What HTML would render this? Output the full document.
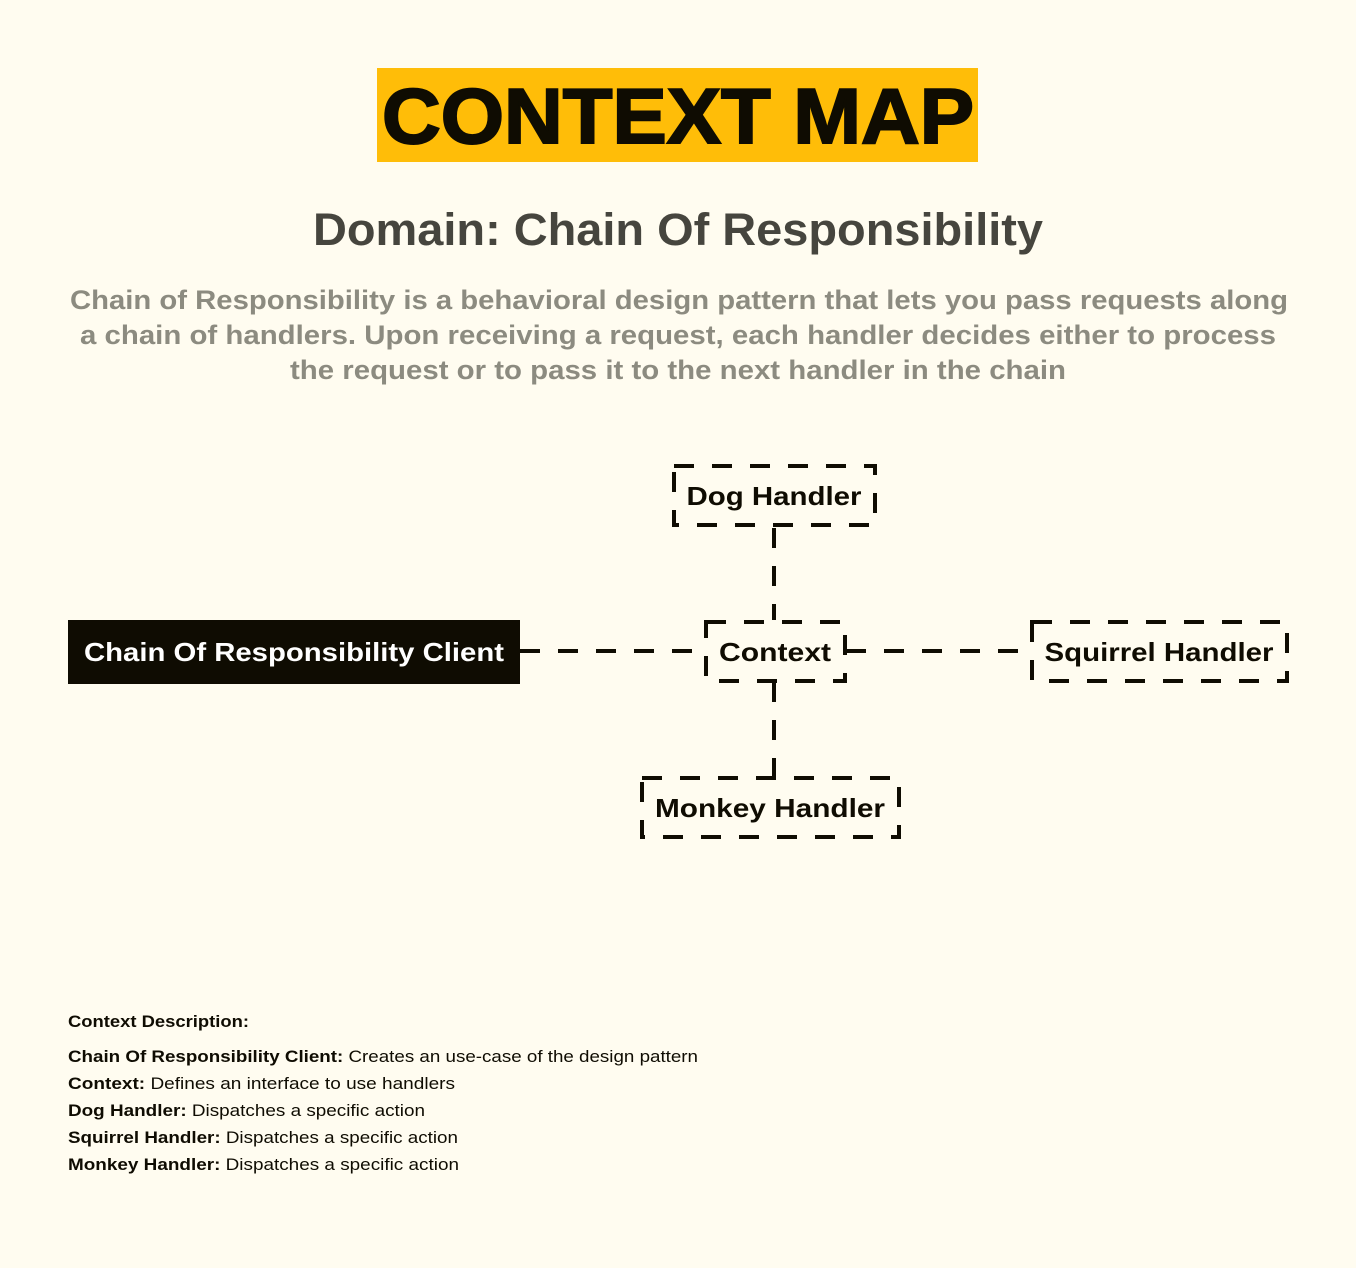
<!DOCTYPE html>
<html><head><meta charset="utf-8"><style>
html,body{margin:0;padding:0;background:#fffcf0;}
svg{display:block;}
text{font-family:"Liberation Sans",sans-serif;}
</style></head><body>
<svg width="1356" height="1268" viewBox="0 0 1356 1268" xmlns="http://www.w3.org/2000/svg">
<rect width="1356" height="1268" fill="#fffcf0"/>
<rect x="377" y="68" width="601" height="94" fill="#ffbd08"/>
<text x="678" y="143" text-anchor="middle" font-size="78" font-weight="900" fill="#0f0c02" textLength="592" lengthAdjust="spacingAndGlyphs" stroke="#0f0c02" stroke-width="2">CONTEXT MAP</text>
<text x="678" y="245" text-anchor="middle" font-size="45" font-weight="bold" fill="#46453e" textLength="730" lengthAdjust="spacingAndGlyphs">Domain: Chain Of Responsibility</text>
<g font-size="27" font-weight="bold" fill="#8c8b80" text-anchor="middle">
<text x="679" y="309" textLength="1218" lengthAdjust="spacingAndGlyphs">Chain of Responsibility is a behavioral design pattern that lets you pass requests along</text>
<text x="678" y="344" textLength="1196" lengthAdjust="spacingAndGlyphs">a chain of handlers. Upon receiving a request, each handler decides either to process</text>
<text x="678" y="379" textLength="776" lengthAdjust="spacingAndGlyphs">the request or to pass it to the next handler in the chain</text>
</g>
<g stroke="#0f0c02" stroke-width="4" fill="none" stroke-dasharray="20 18">
<line x1="774" y1="528" x2="774" y2="620"/>
<line x1="774" y1="682" x2="774" y2="776"/>
<line x1="520" y1="651" x2="704" y2="651"/>
<line x1="846" y1="651" x2="1030" y2="651"/>
<rect x="674" y="466" width="201" height="59"/>
<rect x="706" y="622" width="139" height="59"/>
<rect x="642" y="778" width="257" height="59"/>
<rect x="1032" y="622" width="255" height="59"/>
</g>
<rect x="68" y="620" width="452" height="64" fill="#0f0c02"/>
<g font-size="26" font-weight="bold" text-anchor="middle">
<text x="294" y="661" fill="#ffffff" textLength="420" lengthAdjust="spacingAndGlyphs">Chain Of Responsibility Client</text>
<text x="774" y="505" fill="#0f0c02" textLength="175" lengthAdjust="spacingAndGlyphs">Dog Handler</text>
<text x="775" y="661" fill="#0f0c02" textLength="112" lengthAdjust="spacingAndGlyphs">Context</text>
<text x="770" y="817" fill="#0f0c02" textLength="230" lengthAdjust="spacingAndGlyphs">Monkey Handler</text>
<text x="1159" y="661" fill="#0f0c02" textLength="229" lengthAdjust="spacingAndGlyphs">Squirrel Handler</text>
</g>
<g font-size="17" fill="#0f0c02">
<text x="68" y="1027" font-weight="bold" textLength="181" lengthAdjust="spacingAndGlyphs">Context Description:</text>
<text x="68" y="1062" textLength="630" lengthAdjust="spacingAndGlyphs"><tspan font-weight="bold">Chain Of Responsibility Client:</tspan> Creates an use-case of the design pattern</text>
<text x="68" y="1089" textLength="387" lengthAdjust="spacingAndGlyphs"><tspan font-weight="bold">Context:</tspan> Defines an interface to use handlers</text>
<text x="68" y="1116" textLength="357" lengthAdjust="spacingAndGlyphs"><tspan font-weight="bold">Dog Handler:</tspan> Dispatches a specific action</text>
<text x="68" y="1143" textLength="390" lengthAdjust="spacingAndGlyphs"><tspan font-weight="bold">Squirrel Handler:</tspan> Dispatches a specific action</text>
<text x="68" y="1170" textLength="391" lengthAdjust="spacingAndGlyphs"><tspan font-weight="bold">Monkey Handler:</tspan> Dispatches a specific action</text>
</g>
</svg>
</body></html>
